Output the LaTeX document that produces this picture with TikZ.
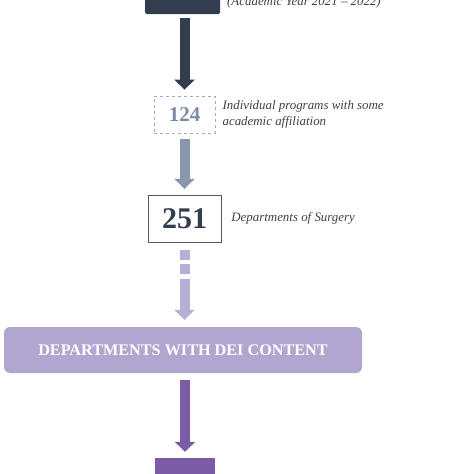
\documentclass[tikz,border=0pt]{standalone}
\usepackage{fontspec}
\setmainfont{Liberation Serif}
\usepackage{tikz}
\usetikzlibrary{arrows.meta, positioning}

\definecolor{navy}{HTML}{323D50}
\definecolor{slate}{HTML}{8896AE}
\definecolor{slatetext}{HTML}{7B8BA3}
\definecolor{lav}{HTML}{B0A6CF}
\definecolor{lavlight}{HTML}{B8AFD7}
\definecolor{plum}{HTML}{7A5BA6}
\definecolor{notegray}{HTML}{3F4048}

\begin{document}
\begin{tikzpicture}
      [
        x=1pt, y=-1pt,
        note/.style={anchor=west, inner sep=0pt, text=notegray, align=left,
          font=\fontsize{12.9}{15.5}\selectfont\itshape},
        blockarrow/.style={line width=10pt,
          -{Triangle[width=20pt,length=10pt]}},
        countbox/.style={minimum width=61pt, minimum height=37pt, inner sep=0pt,
          font=\fontsize{21}{21}\selectfont\bfseries}
      ]
      \useasboundingbox (0,0) rectangle (474,474);
      % boxes
      \node [fill=navy, rounded corners=1.5pt, minimum width=75pt, minimum height=44pt] (top) at (182.5,-8) {};
      \node [countbox, draw=slate!80, dashed, thick, text=slatetext] (n124) at (184.5,114.5) {124};
      \node [countbox, draw=black!65, fill=white, minimum width=73pt, minimum height=47pt,
        font=\fontsize{30}{30}\selectfont\bfseries, text=navy] (n251) at (184.5,218.5) {251};
      \node [fill=lav, rounded corners=6pt, minimum width=358pt, minimum height=46pt, text=white,
        font=\fontsize{16.2}{16}\selectfont\bfseries] (dei) at (183,350) {DEPARTMENTS WITH DEI CONTENT};
      \node [fill=plum, minimum width=60pt, minimum height=40pt] (final) at (185,478) {};
      % labels
      \node [note] (year) at (227,2) {(Academic Year 2021 -- 2022)};
      \node [note, right=7pt of n124] (n124note) {Individual programs with some\\academic affiliation};
      \node [note, right=10pt of n251] (n251note) {Departments of Surgery};
      % arrows
      \draw [blockarrow, navy, shorten <=4pt, shorten >=6pt] (n124.north |- top.south) -- (n124.north);
      \draw [blockarrow, slate, shorten <=6pt, shorten >=6pt] (n124.south) -- (n251.north);
      \draw [blockarrow, lavlight, shorten <=8pt, shorten >=7pt,
        dash pattern=on 10pt off 4pt on 10pt off 5pt on 200pt] (n251.south) -- (n251.south |- dei.north);
      \draw [blockarrow, plum, shorten <=7pt, shorten >=6pt] (final.north |- dei.south) -- (final.north);
\end{tikzpicture}
\end{document}
